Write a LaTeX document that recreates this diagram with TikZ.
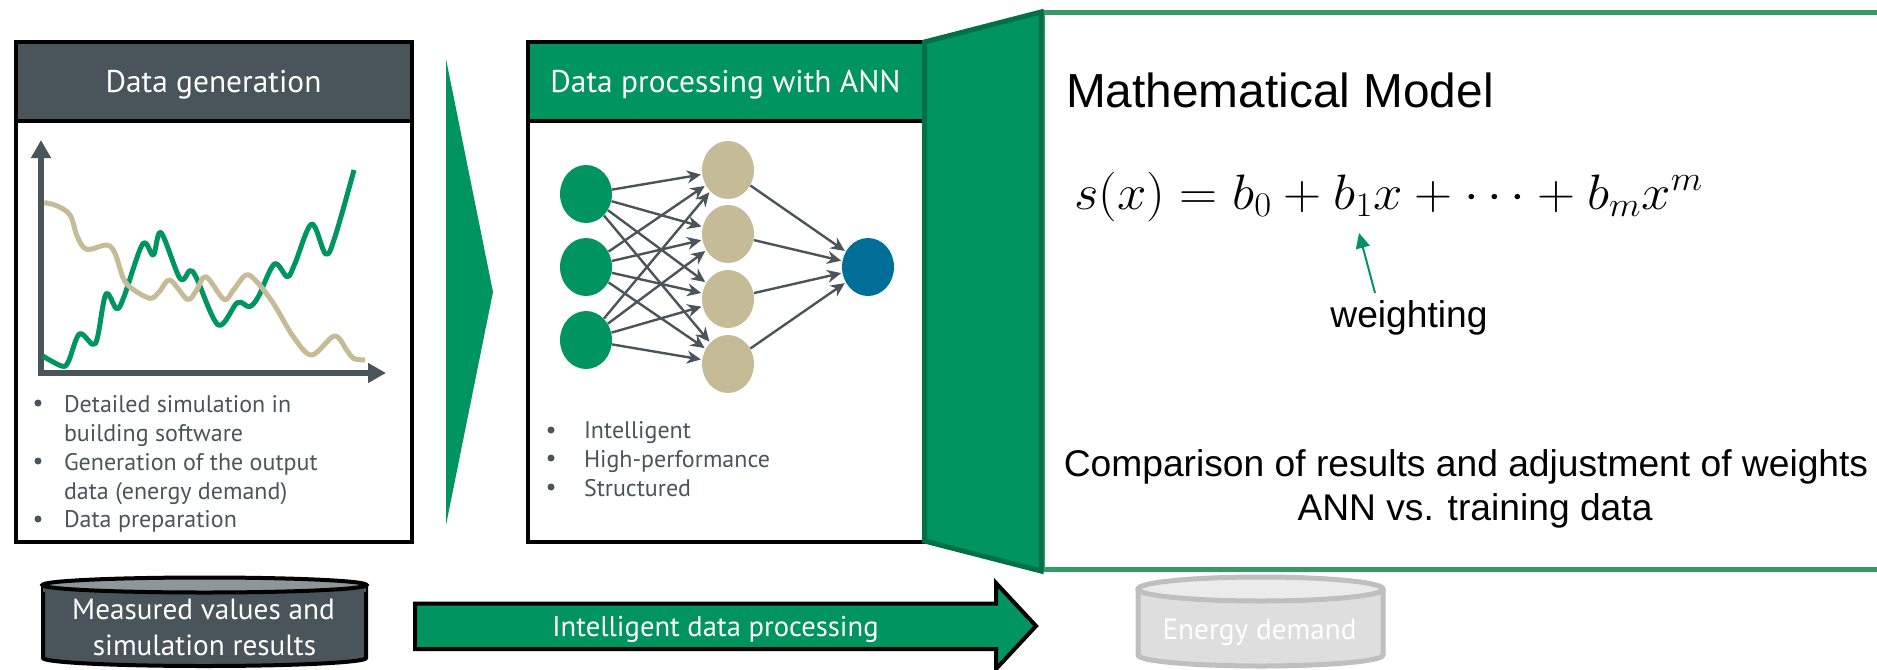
\documentclass[tikz,border=0pt]{standalone}
\usepackage{fontspec}
\usetikzlibrary{arrows.meta,shapes.geometric}
\newfontfamily\myr{PT Sans}
\newfontfamily\arl{Liberation Sans}
\DeclareMathSizes{37.5}{37.5}{19}{15}
\definecolor{gr}{RGB}{0,148,96}
\definecolor{grd}{RGB}{0,112,72}
\definecolor{grl}{RGB}{52,154,104}
\definecolor{sl}{RGB}{74,85,91}
\definecolor{tn}{RGB}{197,188,151}
\definecolor{bl}{RGB}{0,111,152}
\tikzset{
 txt/.style={inner sep=0pt,outer sep=0pt,anchor=base},
 hdr/.style={txt,font=\myr\fontsize{15.7}{16}\selectfont,text=white},
 hdrb/.style={txt,font=\myr\fontsize{14.6}{15}\selectfont,text=white},
 bul/.style={txt,anchor=base west,font=\myr\fontsize{12}{12}\selectfont,text=sl},
 dot/.style={circle,fill=sl,inner sep=0pt,minimum size=3.5pt},
 frame/.style={draw=black,line width=2pt,line join=miter},
 blk/.style={txt,font=\arl\fontsize{18.6}{19}\selectfont,text=black},
 neuron/.style={ellipse,inner sep=0pt,minimum width=26pt,minimum height=29pt},
 nin/.style={neuron,fill=gr},
 nhid/.style={neuron,fill=tn},
 nout/.style={neuron,fill=bl},
 edge/.style={draw=sl,line width=1.2pt,-{Stealth[length=7pt,width=6.5pt]},shorten >=0.5pt},
 curve/.style={line width=2.5pt,line join=round,smooth,tension=0.55},
}
\begin{document}
\begin{tikzpicture}[x=0.5pt,y=-0.5pt]
\clip (0,0) rectangle (1877,669);
% left panel
\fill[white] (15.5,42) rectangle (412,542);
\draw[frame,fill=sl] (15.5,42) rectangle (412,121);
\draw[frame] (15.5,121) rectangle (412,542);
\node[hdr] (h1) at (213.5,92.7) {Data generation};
% axes
\coordinate (ax0) at (41,373);
\coordinate (axy) at (41,140);
\coordinate (axx) at (386,373);
\draw[sl,line width=3pt,{Triangle[length=9pt,width=9.5pt]}-{Triangle[length=9pt,width=9.5pt]}] (axy) -- (ax0) -- (axx);
\begin{scope}[x=0.16667pt,y=-0.16667pt,yshift=-10pt]
\draw[gr,curve] plot coordinates {(128,1008)(185,1038)(205,1025)(238,942)(278,973)(293,950)(318,822)(350,866)(372,830)(428,672)(460,705)(483,638)(540,775)(570,752)(590,775)(655,915)(712,848)(748,860)(775,830)(823,732)(862,770)(885,730)(935,612)(977,702)(1005,650)(1062,450)};
\draw[tn,curve] plot coordinates {(133,548)(170,557)(210,585)(232,650)(260,688)(320,675)(345,700)(370,775)(395,805)(450,835)(478,815)(510,780)(562,838)(590,810)(618,770)(672,838)(700,810)(738,765)(770,785)(820,850)(880,950)(935,1005)(1003,948)(1040,990)(1060,1015)(1095,1020)};
\end{scope}
\node[dot] (d1) at (38,403) {};
\node[dot] (d2) at (38,461) {};
\node[dot] (d3) at (38,519) {};
\node[bul] (b1) at (64,412) {Detailed simulation in};
\node[bul] (b2) at (64,441) {building software};
\node[bul] (b3) at (64,470) {Generation of the output};
\node[bul] (b4) at (64,499) {data (energy demand)};
\node[bul] (b5) at (64,527) {Data preparation};
% chevron
\fill[gr] (446,59) -- (493,292) -- (446,525) -- cycle;
% middle panel
\draw[frame,fill=gr] (528,42) rectangle (930,121);
\draw[frame] (528,121) rectangle (930,542);
\node[hdr] (h2) at (725.5,92.7) {Data processing with ANN};
\node[nin] (i1) at (586,194) {};
\node[nin] (i2) at (586,267) {};
\node[nin] (i3) at (586,340) {};
\node[nhid] (m1) at (728,170) {};
\node[nhid] (m2) at (728,234) {};
\node[nhid] (m3) at (728,299) {};
\node[nhid] (m4) at (728,364) {};
\node[nout] (o) at (868,267) {};
\foreach \a in {i1,i2,i3}\foreach \b in {m1,m2,m3,m4}\draw[edge] (\a) -- (\b);
\foreach \b in {m1,m2,m3,m4}\draw[edge] (\b) -- (o);
\node[dot] (d4) at (551,430) {};
\node[dot] (d5) at (551,458) {};
\node[dot] (d6) at (551,487) {};
\node[bul] (c1) at (584,438) {Intelligent};
\node[bul] (c2) at (584,467) {High-performance};
\node[bul] (c3) at (584,496) {Structured};
% right panel
\draw[grl,line width=2.5pt] (1042,12) rectangle (1885,569);
\draw[grd,fill=gr,line width=2.5pt,line join=miter] (924.5,42) -- (1041,12) -- (1041,571) -- (924.5,541) -- cycle;
\node[blk,anchor=base west,font=\arl\fontsize{23.9}{24}\selectfont] (mm) at (1066,107) {Mathematical Model};
\node[txt,anchor=base west,xscale=1.06,font=\fontsize{37.5}{38}\selectfont] (eq) at (1074,209) {$s(x)=b_0+b_1x+\cdots+b_mx^m$};
\coordinate (ws) at (1375,293);
\coordinate (we) at (1359,233);
\draw[gr,line width=1pt,-{Triangle[length=7.5pt,width=7pt]}] (ws) -- (we);
\node[blk] (w) at (1409,327) {weighting};
\node[blk] (c) at (1466,476) {Comparison of results and adjustment of weights};
\node[blk] (a) at (1475,520) {ANN vs. training data};
% left cylinder
\draw[black,line width=2pt,fill=sl] (43,586) -- (43,658) arc[start angle=180,end angle=0,x radius=161.5,y radius=8] -- (366,586);
\fill[sl] (43,586) rectangle (366,592);
\draw[black,line width=2pt,fill={rgb,255:red,141;green,150;blue,152}] (204.5,585) ellipse[x radius=162,y radius=7.5];
\node[hdrb] (t1) at (203.5,619) {Measured values and};
\node[hdrb] (t2) at (204.5,655) {simulation results};
% big arrow
\draw[black,fill=gr,line width=2pt,line join=miter] (415,603.5) -- (996,603.5) -- (996,583) -- (1036,626) -- (996,669) -- (996,649) -- (415,649) -- cycle;
\node[hdrb,font=\myr\fontsize{14.3}{15}\selectfont] (t3) at (715.5,636) {Intelligent data processing};
% grey cylinder
\draw[black!25,line width=2.5pt,fill=black!13] (1138,589) -- (1138,655) arc[start angle=180,end angle=0,x radius=122.5,y radius=11] -- (1383,589);
\draw[black!25,line width=2.5pt,fill=black!8] (1260.5,589) ellipse[x radius=122.5,y radius=12];
\node[hdrb] (t4) at (1259.5,639) {Energy demand};
\end{tikzpicture}
\end{document}
